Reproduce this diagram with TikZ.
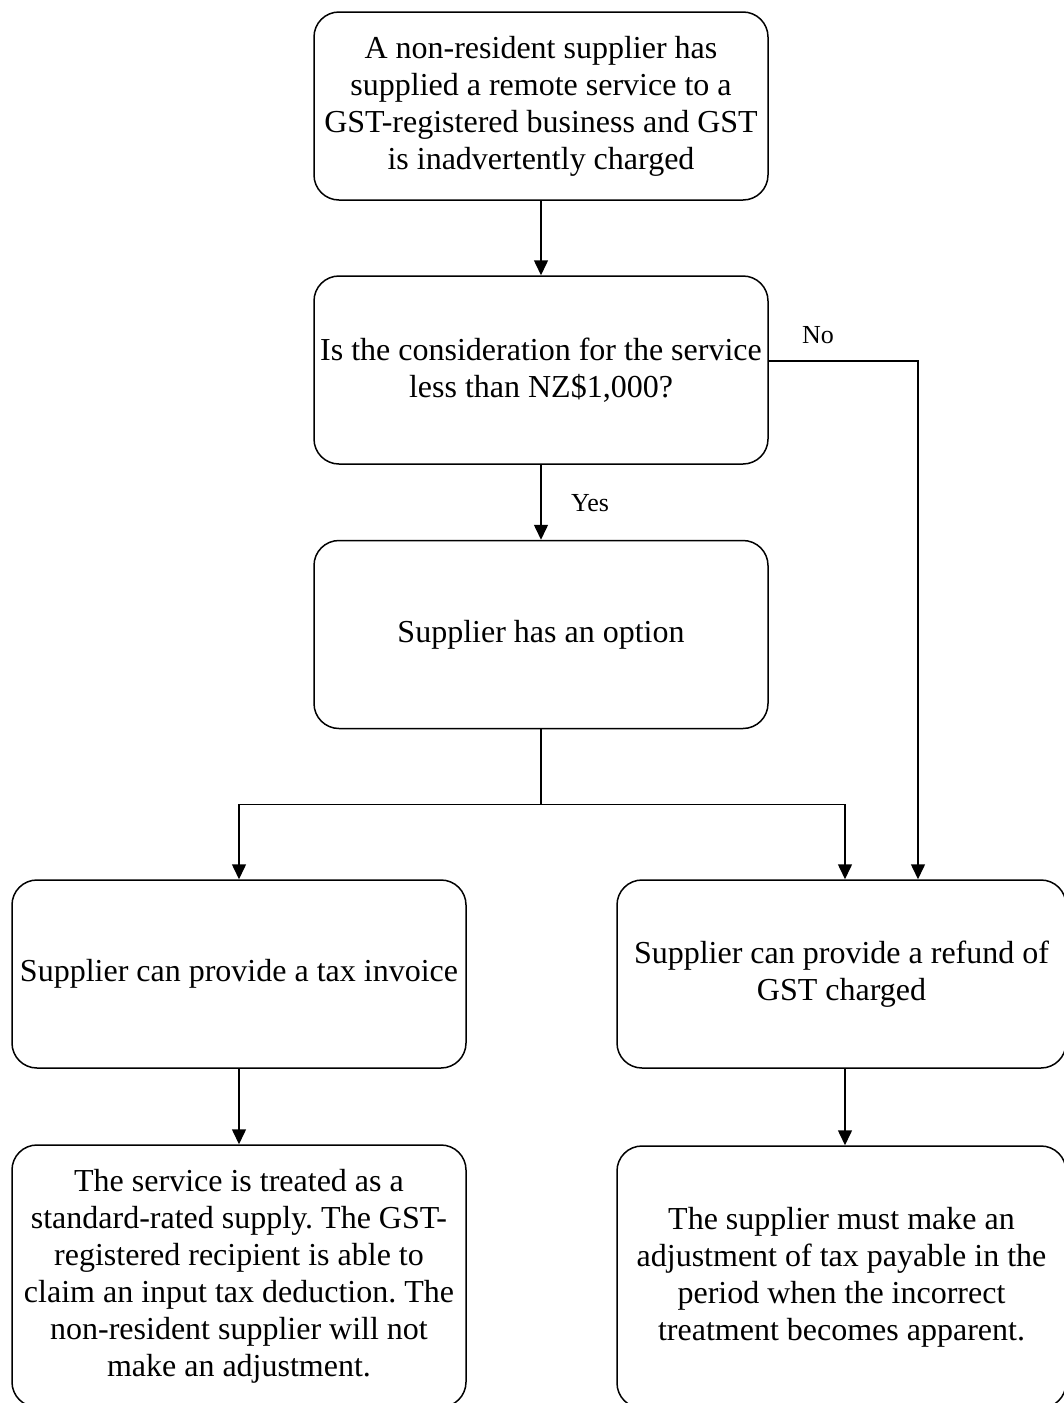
\documentclass[tikz,border=0pt]{standalone}
\usepackage{fontspec}
\setmainfont{Liberation Serif}
\usetikzlibrary{arrows.meta,positioning,calc}
\frenchspacing

\tikzset{
  box/.style={draw, line width=1.5pt, rounded corners=25pt, align=center,
    minimum width=454pt, minimum height=188pt, inner sep=4pt,
    font=\fontsize{32}{37}\selectfont},
  tallbox/.style={box, minimum height=262pt},
  arr/.style={line width=1.5pt, -{Triangle[length=15pt,width=14pt]}},
  link/.style={line width=1.5pt},
  lbl/.style={font=\fontsize{26}{30}\selectfont}
}

\begin{document}
\begin{tikzpicture}[x=1pt,y=-1pt]
  \useasboundingbox (0,0) rectangle (1064,1403);
  \clip (0,0) rectangle (1064,1403);

  % process boxes
  \node[box] (b1) at (541,106) {A non-resident supplier has\\supplied a remote service to a\\GST-registered business and GST\\is inadvertently charged};
  \node[box] (b2) at (541,370) {Is the consideration for the service\\less than NZ\$1,000?};
  \node[box] (b3) at (541,634.5) {Supplier has an option};
  \node[box] (b4) at (239,974) {Supplier can provide a tax invoice};
  \node[box, minimum width=449pt] (b5) at (841.5,974) {Supplier can provide a refund of\\GST charged};
  \node[tallbox] (b6) at (239,1276) {The service is treated as a\\standard-rated supply. The GST-\\registered recipient is able to\\claim an input tax deduction. The\\non-resident supplier will not\\make an adjustment.};
  \node[tallbox, minimum width=449pt] (b7) at (841.5,1277) {The supplier must make an\\adjustment of tax payable in the\\period when the incorrect\\treatment becomes apparent.};

  % connectors
  \draw[arr] (b1.south) -- (b2.north);
  \draw[arr] (b2.south) -- (b3.north);
  \node[lbl] (yes) at (590,503) {Yes};

  \draw[arr] ([yshift=9pt]b2.east) -| ([xshift=76.5pt]b5.north);
  \node[lbl] (no) at (818,335) {No};

  \coordinate (split) at ($(b3.south)+(0,75)$);
  \draw[link] (b3.south) -- (split);
  \draw[arr] (split) -| (b4.north);
  \draw[arr] (split) -| ([xshift=3.5pt]b5.north);

  \draw[arr] (b4.south) -- (b6.north);
  \draw[arr] ([xshift=3.5pt]b5.south) -- ([xshift=3.5pt]b7.north);
\end{tikzpicture}
\end{document}
